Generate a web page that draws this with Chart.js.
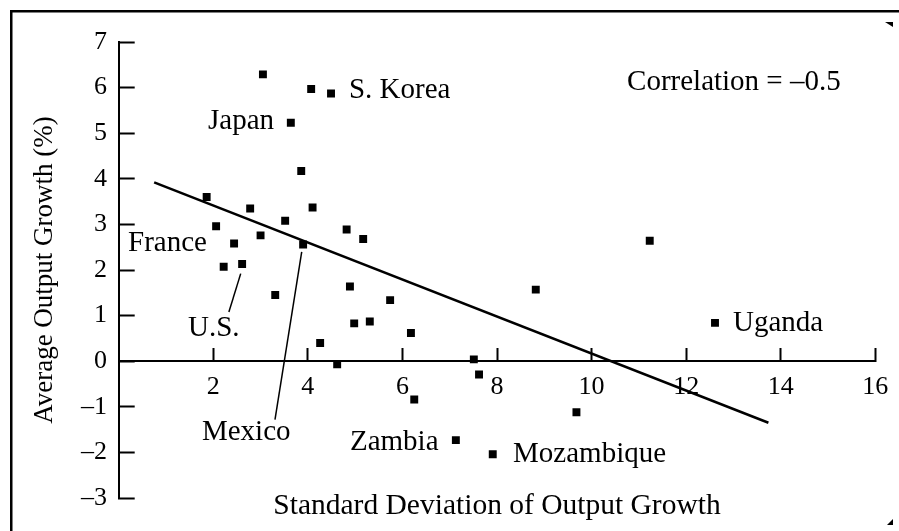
<!DOCTYPE html>
<html><head><meta charset="utf-8">
<script src="https://cdn.jsdelivr.net/npm/chart.js@4"></script>
<style>html,body{margin:0;padding:0;background:#fff;}canvas{display:block;}</style>
</head><body>
<canvas id="c" width="899" height="531"></canvas>
<script>
// ---- data ----
const sdGrowth  = [3.05, 4.07, 4.49, 3.64, 3.86, 1.86, 2.06, 2.78, 3.52, 4.10, 2.44, 3.00, 3.90, 4.82, 5.17, 2.22, 2.61, 3.31, 4.89, 5.74, 4.98, 5.31, 6.18, 4.26, 4.62, 6.25, 8.82, 12.61, 7.51, 7.62, 9.68, 7.13, 7.91, 11.23];
const avgGrowth = [6.29, 5.97, 5.87, 5.23, 4.17, 3.60, 2.96, 3.35, 3.08, 3.37, 2.58, 2.76, 2.56, 2.89, 2.68, 2.07, 2.13, 1.45, 1.64, 1.34, 0.83, 0.87, 0.62, 0.40, -0.07, -0.84, 1.57, 0.84, 0.04, -0.29, -1.12, -1.73, -2.04, 2.64];
const fitX = [0.75, 13.74];
const fitY = [3.92, -1.35];
const xTicks = [2, 4, 6, 8, 10, 12, 14, 16];
const yTicks = [-3, -2, -1, 0, 1, 2, 3, 4, 5, 6, 7];
const labelNames = ['Japan', 'S. Korea', 'France', 'U.S.', 'Mexico', 'Zambia', 'Mozambique', 'Uganda', 'Correlation = \u20130.5'];
const xTitle = 'Standard Deviation of Output Growth';
const yTitle = 'Average Output Growth (%)';

// ---- annotation placement (data coordinates, left edge / vertical middle) ----
const labelAnchors = [
  [1.888, 5.26], [4.87, 5.94], [0.197, 2.59], [1.465, 0.72], [1.76, -1.57],
  [4.89, -1.77], [8.34, -2.05], [12.99, 0.83], [10.75, 6.125]
];
const leaderLines = [
  [[2.33, 1.08], [2.58, 1.92]],
  [[3.305, -1.28], [3.87, 2.40]]
];

const FONT = '"Liberation Serif", "Times New Roman", serif';
const minus = v => String(v).replace('-', '\u2013');

const annotate = {
  id: 'annotate',
  beforeDraw(chart) {
    const ctx = chart.ctx;
    ctx.save();
    ctx.fillStyle = '#fff';
    ctx.fillRect(0, 0, chart.width, chart.height);
    ctx.fillStyle = '#000';
    ctx.fillRect(10, 10, chart.width - 10, 2.5);
    ctx.fillRect(10, 10, 2.5, chart.height - 10);
    ctx.beginPath(); ctx.moveTo(885, 22); ctx.lineTo(893, 22); ctx.lineTo(893, 27); ctx.closePath(); ctx.fill();
    ctx.beginPath(); ctx.moveTo(893, 519); ctx.lineTo(893, 525); ctx.lineTo(887, 525); ctx.closePath(); ctx.fill();
    ctx.restore();
  },
  afterDatasetsDraw(chart) {
    const {ctx, scales: {x, y}} = chart;
    ctx.save();
    ctx.fillStyle = '#000';
    ctx.strokeStyle = '#000';
    ctx.lineWidth = 1.5;
    leaderLines.forEach(([a, b]) => {
      ctx.beginPath();
      ctx.moveTo(x.getPixelForValue(a[0]), y.getPixelForValue(a[1]));
      ctx.lineTo(x.getPixelForValue(b[0]), y.getPixelForValue(b[1]));
      ctx.stroke();
    });
    ctx.font = '29px ' + FONT;
    ctx.textAlign = 'left';
    ctx.textBaseline = 'middle';
    labelNames.forEach((name, i) => {
      const a = labelAnchors[i];
      ctx.fillText(name, x.getPixelForValue(a[0]), y.getPixelForValue(a[1]));
    });
    ctx.restore();
  }
};

new Chart(document.getElementById('c'), {
  type: 'scatter',
  data: {
    datasets: [
      {
        data: sdGrowth.map((v, i) => ({x: v, y: avgGrowth[i]})),
        pointStyle: 'rect',
        pointRadius: 5.6,
        backgroundColor: '#000',
        borderWidth: 0
      },
      {
        type: 'line',
        data: fitX.map((v, i) => ({x: v, y: fitY[i]})),
        borderColor: '#000',
        borderWidth: 2.5,
        pointRadius: 0,
        fill: false
      }
    ]
  },
  options: {
    responsive: false,
    animation: false,
    events: [],
    layout: {padding: {top: 42, right: 23.7, left: 0, bottom: 0}},
    plugins: {
      legend: {display: false},
      tooltip: {enabled: false},
      title: {
        display: true,
        text: xTitle,
        position: 'bottom',
        fullSize: false,
        color: '#000',
        font: {family: FONT, size: 29.5, weight: 'normal', lineHeight: '16px'},
        padding: {top: 0, bottom: 17}
      }
    },
    scales: {
      x: {
        type: 'linear',
        min: 0, max: 16,
        position: {y: 0},
        afterBuildTicks: s => { s.ticks = xTicks.map(v => ({value: v})); },
        afterFit: s => { s.paddingLeft = 0; s.paddingRight = 0; s.paddingTop = 0; s.paddingBottom = 0; },
        ticks: {
          color: '#000',
          font: {family: FONT, size: 26},
          padding: 24,
          maxRotation: 0,
          callback: v => minus(v)
        },
        grid: {drawOnChartArea: false, drawTicks: true, tickLength: -14, tickWidth: 2, tickColor: '#000'},
        border: {display: true, color: '#000', width: 2}
      },
      y: {
        type: 'linear',
        min: -3, max: 7,
        position: 'left',
        afterBuildTicks: s => { s.ticks = yTicks.map(v => ({value: v})); },
        afterFit: s => { s.width = 118.7; s.paddingTop = 0; s.paddingBottom = 0; },
        ticks: {
          color: '#000',
          font: {family: FONT, size: 26},
          padding: 27.7,
          callback: v => minus(v)
        },
        grid: {drawOnChartArea: false, drawTicks: true, tickLength: -16, tickWidth: 2, tickColor: '#000'},
        border: {display: true, color: '#000', width: 2},
        title: {
          display: true,
          text: yTitle,
          color: '#000',
          font: {family: FONT, size: 27},
          padding: {top: 28.8, bottom: 0}
        }
      }
    }
  },
  plugins: [annotate]
});
</script>
</body></html>
